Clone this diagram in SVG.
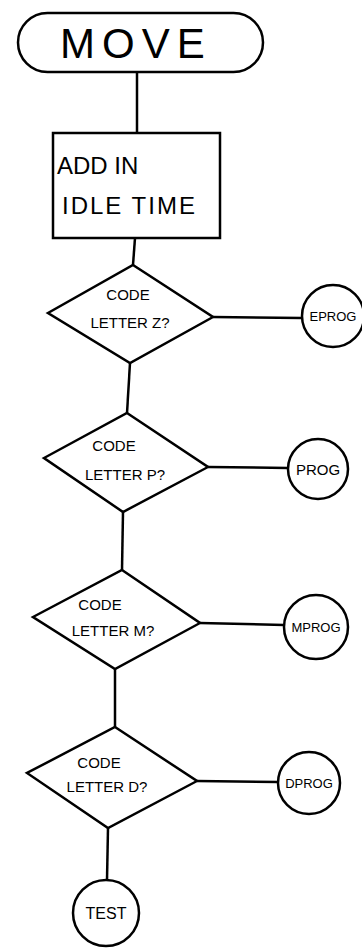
<svg xmlns="http://www.w3.org/2000/svg" width="362" height="951" viewBox="0 0 362 951">
<style>
.s{fill:#fff;stroke:#000;stroke-width:2.5}
.c{fill:none;stroke:#000;stroke-width:2.5}
text{font-family:"Liberation Sans",Arial,sans-serif;fill:#000}
.big{font-size:42px;letter-spacing:7px}
.box{font-size:24px}
.dt{font-size:15px;text-anchor:middle}
.ct{font-size:13px;text-anchor:middle}
</style>
<rect width="362" height="951" fill="#fff"/>
<g id="connectors">
<line class="c" x1="137" y1="72" x2="137" y2="133"/>
<line class="c" x1="135" y1="238" x2="133" y2="265"/>
<line class="c" x1="130" y1="363" x2="127" y2="413"/>
<line class="c" x1="123" y1="512" x2="122" y2="570"/>
<line class="c" x1="115" y1="669" x2="115" y2="727"/>
<line class="c" x1="108" y1="828" x2="107" y2="880"/>
<line class="c" x1="213" y1="317" x2="302" y2="318"/>
<line class="c" x1="208" y1="467" x2="288" y2="468"/>
<line class="c" x1="200" y1="623" x2="284" y2="625"/>
<line class="c" x1="197" y1="781" x2="278" y2="782"/>
</g>
<g id="move">
<rect class="s" x="18" y="13" width="245" height="59" rx="29.5"/>
<text class="big" x="60" y="58">MOVE</text>
</g>
<g id="idle">
<rect class="s" x="53" y="133" width="167" height="105"/>
<text class="box" x="57" y="174">ADD IN</text>
<text class="box" x="62" y="214" style="letter-spacing:2px">IDLE TIME</text>
</g>
<g id="d1">
<polygon class="s" points="133,265 213,317 130,363 48,313"/>
<text class="dt" x="128" y="300">CODE</text>
<text class="dt" x="130" y="328">LETTER Z?</text>
</g>
<g id="d2">
<polygon class="s" points="127,413 208,467 123,512 44,458"/>
<text class="dt" x="114" y="451">CODE</text>
<text class="dt" x="125" y="480">LETTER P?</text>
</g>
<g id="d3">
<polygon class="s" points="122,570 200,623 115,669 33,617"/>
<text class="dt" x="100" y="610">CODE</text>
<text class="dt" x="113" y="636">LETTER M?</text>
</g>
<g id="d4">
<polygon class="s" points="115,727 197,781 108,828 27,773"/>
<text class="dt" x="99" y="768">CODE</text>
<text class="dt" x="107" y="792">LETTER D?</text>
</g>
<g id="eprog">
<circle class="s" cx="333" cy="316" r="31"/>
<text class="ct" x="333" y="321">EPROG</text>
</g>
<g id="prog">
<circle class="s" cx="318" cy="469" r="30"/>
<text class="ct" x="318" y="475" style="font-size:15px">PROG</text>
</g>
<g id="mprog">
<circle class="s" cx="316" cy="627" r="32"/>
<text class="ct" x="316" y="632">MPROG</text>
</g>
<g id="dprog">
<circle class="s" cx="309" cy="783" r="31"/>
<text class="ct" x="309" y="788">DPROG</text>
</g>
<g id="test">
<circle class="s" cx="106" cy="913" r="33"/>
<text class="ct" x="106" y="919" style="font-size:16px">TEST</text>
</g>
</svg>
